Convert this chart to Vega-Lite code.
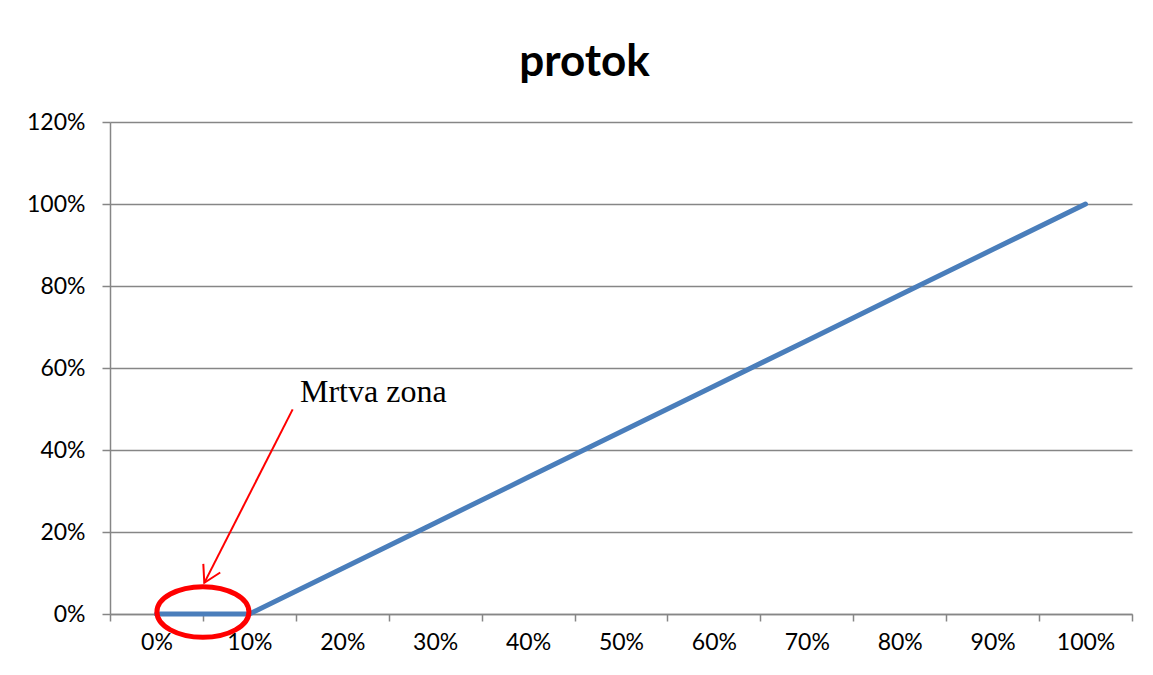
{
  "$schema": "https://vega.github.io/schema/vega-lite/v6.json",
  "width": 1022,
  "height": 492,
  "autosize": {"type": "none"},
  "padding": {"left": 110, "top": 122, "right": 21, "bottom": 61},
  "background": "white",
  "title": {"text": "protok", "font": "Lato", "fontSize": 44, "fontWeight": "bold", "color": "black", "anchor": "middle", "frame": "bounds", "offset": 26, "dx": -18},
  "config": {"view": {"stroke": null}},
  "datasets": {
    "main": [
      {"x": 0, "y": 0},
      {"x": 10, "y": 0},
      {"x": 20, "y": 11.11},
      {"x": 30, "y": 22.22},
      {"x": 40, "y": 33.33},
      {"x": 50, "y": 44.44},
      {"x": 60, "y": 55.56},
      {"x": 70, "y": 66.67},
      {"x": 80, "y": 77.78},
      {"x": 90, "y": 88.89},
      {"x": 100, "y": 100}
    ],
    "ellipse": [{"x": 5, "y": 0.5}],
    "arrow": [{"x": 14.66, "y": 49.9, "x2": 5.15, "y2": 7.6}],
    "head": [{"x": 5.15, "y": 7.6}],
    "note": [{"x": 15.45, "y": 51.8, "label": "Mrtva zona"}]
  },
  "layer": [
    {
      "data": {"name": "main"},
      "mark": {"type": "line", "color": "#4A7EBB", "strokeWidth": 5, "strokeCap": "round", "strokeJoin": "round", "clip": false},
      "encoding": {
        "x": {
          "field": "x", "type": "quantitative",
          "scale": {"domain": [-5, 105], "nice": false, "zero": false},
          "axis": {
            "values": [-5, 5, 15, 25, 35, 45, 55, 65, 75, 85, 95, 105],
            "labelExpr": "datum.value > 100 ? '' : (datum.value + 5) + '%'",
            "labelOffset": 46.45,
            "labelFlush": false,
            "labelOverlap": false,
            "labelBound": false,
            "grid": false,
            "tickSize": 7,
            "tickColor": "#868686",
            "tickWidth": 1.5,
            "domainColor": "#868686",
            "domainWidth": 1.5,
            "labelFont": "Lato",
            "labelFontSize": 23,
            "labelColor": "black",
            "labelPadding": 10,
            "title": null
          }
        },
        "y": {
          "field": "y", "type": "quantitative",
          "scale": {"domain": [0, 120], "nice": false},
          "axis": {
            "values": [0, 20, 40, 60, 80, 100, 120],
            "labelExpr": "datum.value + '%'",
            "grid": true,
            "gridColor": "#868686",
            "gridOpacity": 1,
            "gridWidth": 1.5,
            "tickSize": 8,
            "tickColor": "#868686",
            "tickWidth": 1.5,
            "domainColor": "#868686",
            "domainWidth": 1.5,
            "labelFont": "Lato",
            "labelFontSize": 23,
            "labelColor": "black",
            "labelPadding": 17,
            "title": null
          }
        }
      }
    },
    {
      "data": {"name": "ellipse"},
      "mark": {"type": "point", "shape": "M 1 0 C 1 0.3038 0.5523 0.55 0 0.55 C -0.5523 0.55 -1 0.3038 -1 0 C -1 -0.3038 -0.5523 -0.55 0 -0.55 C 0.5523 -0.55 1 -0.3038 1 0 Z", "size": 8464, "filled": false, "stroke": "#FF0000", "strokeWidth": 5, "opacity": 1, "clip": false},
      "encoding": {
        "x": {"field": "x", "type": "quantitative"},
        "y": {"field": "y", "type": "quantitative"}
      }
    },
    {
      "data": {"name": "arrow"},
      "mark": {"type": "rule", "color": "#FF0000", "strokeWidth": 2},
      "encoding": {
        "x": {"field": "x", "type": "quantitative"},
        "y": {"field": "y", "type": "quantitative"},
        "x2": {"field": "x2"},
        "y2": {"field": "y2"}
      }
    },
    {
      "data": {"name": "head"},
      "mark": {"type": "point", "shape": "M -0.5 -0.866 L 0 0 L 0.5 -0.866", "size": 1444, "angle": 27, "filled": false, "fill": null, "stroke": "#FF0000", "strokeWidth": 2, "opacity": 1},
      "encoding": {
        "x": {"field": "x", "type": "quantitative"},
        "y": {"field": "y", "type": "quantitative"}
      }
    },
    {
      "data": {"name": "note"},
      "mark": {"type": "text", "font": "Liberation Serif", "fontSize": 32, "align": "left", "baseline": "alphabetic", "color": "black"},
      "encoding": {
        "x": {"field": "x", "type": "quantitative"},
        "y": {"field": "y", "type": "quantitative"},
        "text": {"field": "label"}
      }
    }
  ]
}
